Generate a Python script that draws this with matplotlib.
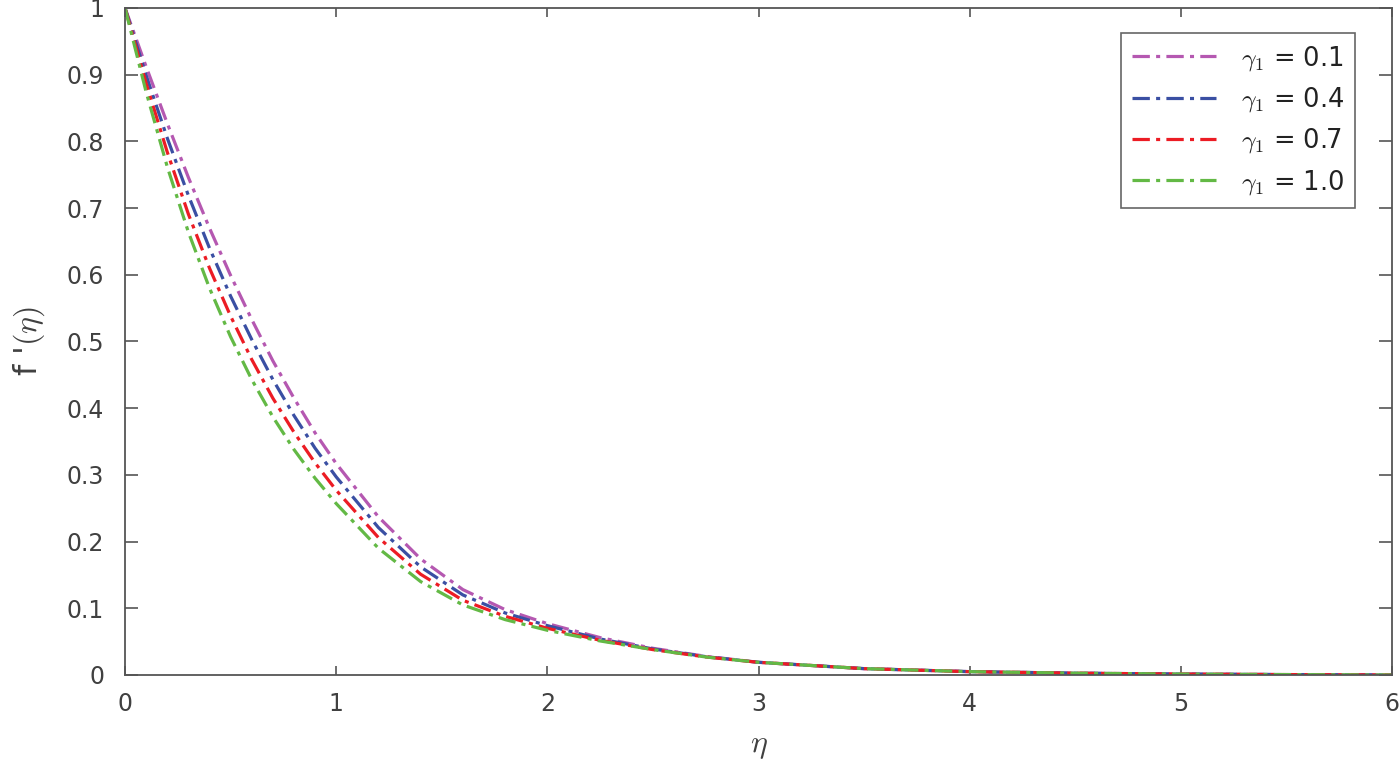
import matplotlib
matplotlib.use("Agg")
import matplotlib.pyplot as plt

eta = [0.0, 0.1, 0.2, 0.3, 0.4, 0.5, 0.6, 0.7, 0.8, 0.9, 1.0, 1.2, 1.4, 1.6, 1.8,
       2.0, 2.25, 2.5, 2.75, 3.0, 3.5, 4.0, 4.5, 5.0, 5.5, 6.0]

f_g01 = [1.000, 0.912, 0.827, 0.746, 0.670, 0.599, 0.533, 0.471, 0.415, 0.363, 0.317,
         0.237, 0.174, 0.128, 0.098, 0.077, 0.056, 0.040, 0.028, 0.019, 0.0095, 0.005,
         0.0027, 0.0014, 0.0006, 0.0]
f_g04 = [1.000, 0.899, 0.805, 0.719, 0.640, 0.568, 0.503, 0.443, 0.389, 0.340, 0.297,
         0.221, 0.162, 0.120, 0.093, 0.074, 0.054, 0.039, 0.0275, 0.019, 0.0095, 0.005,
         0.0027, 0.0014, 0.0006, 0.0]
f_g07 = [1.000, 0.887, 0.784, 0.691, 0.610, 0.538, 0.473, 0.415, 0.364, 0.318, 0.277,
         0.206, 0.151, 0.112, 0.088, 0.070, 0.052, 0.038, 0.027, 0.019, 0.0095, 0.005,
         0.0027, 0.0014, 0.0006, 0.0]
f_g10 = [1.000, 0.874, 0.762, 0.664, 0.580, 0.507, 0.443, 0.387, 0.338, 0.295, 0.257,
         0.190, 0.140, 0.105, 0.083, 0.067, 0.051, 0.038, 0.027, 0.019, 0.0095, 0.005,
         0.0027, 0.0014, 0.0006, 0.0]

labels = [r"$\gamma_\mathsf{1}$ = 0.1", r"$\gamma_\mathsf{1}$ = 0.4",
          r"$\gamma_\mathsf{1}$ = 0.7", r"$\gamma_\mathsf{1}$ = 1.0"]
colors = ["#b558b1", "#3a4fa3", "#ec1c24", "#63b945"]
series = [f_g01, f_g04, f_g07, f_g10]

plt.rcParams['font.family'] = ['DejaVu Sans']
plt.rcParams['mathtext.fontset'] = 'cm'
plt.rcParams['lines.scale_dashes'] = False

fig = plt.figure(figsize=(14, 7.59), dpi=100)
ax = fig.add_axes([0.0893, 0.1107, 0.905, 0.8788])

for y, c, lab in zip(series, colors, labels):
    ax.plot(eta, y, color=c, lw=2.3, dashes=(12.5, 4.5, 2.9, 4.5), label=lab)

ax.set_xlim(0, 6)
ax.set_ylim(0, 1)
ax.set_xticks([0, 1, 2, 3, 4, 5, 6])
ax.set_yticks([0, 0.1, 0.2, 0.3, 0.4, 0.5, 0.6, 0.7, 0.8, 0.9, 1])
ax.set_yticklabels(["0", "0.1", "0.2", "0.3", "0.4", "0.5", "0.6", "0.7", "0.8", "0.9", "1"])

tc = "#404040"
ax.tick_params(direction='in', top=True, right=True, width=1.2,
               colors="#555555", labelcolor=tc, labelsize=17)
ax.tick_params(axis='x', length=6.5, pad=12)
ax.tick_params(axis='y', length=9.4, pad=15)
for s in ax.spines.values():
    s.set_color("#555555")
    s.set_linewidth(1.3)

ax.set_xlabel(r"$\eta$", fontsize=23, color=tc, labelpad=10)
ax.set_ylabel(r"f '$(\eta)$", fontsize=23, color=tc, labelpad=14)

leg = ax.legend(loc='upper right', bbox_to_anchor=(0.9708, 0.9625), fontsize=18.5,
                frameon=True, fancybox=False, edgecolor="#404040", handlelength=3.27,
                borderpad=0.42, labelspacing=0.48, handletextpad=0.97, borderaxespad=0)
leg.get_frame().set_linewidth(1.2)
for t in leg.get_texts():
    t.set_color("#222222")

fig.savefig("out.png", dpi=100)
